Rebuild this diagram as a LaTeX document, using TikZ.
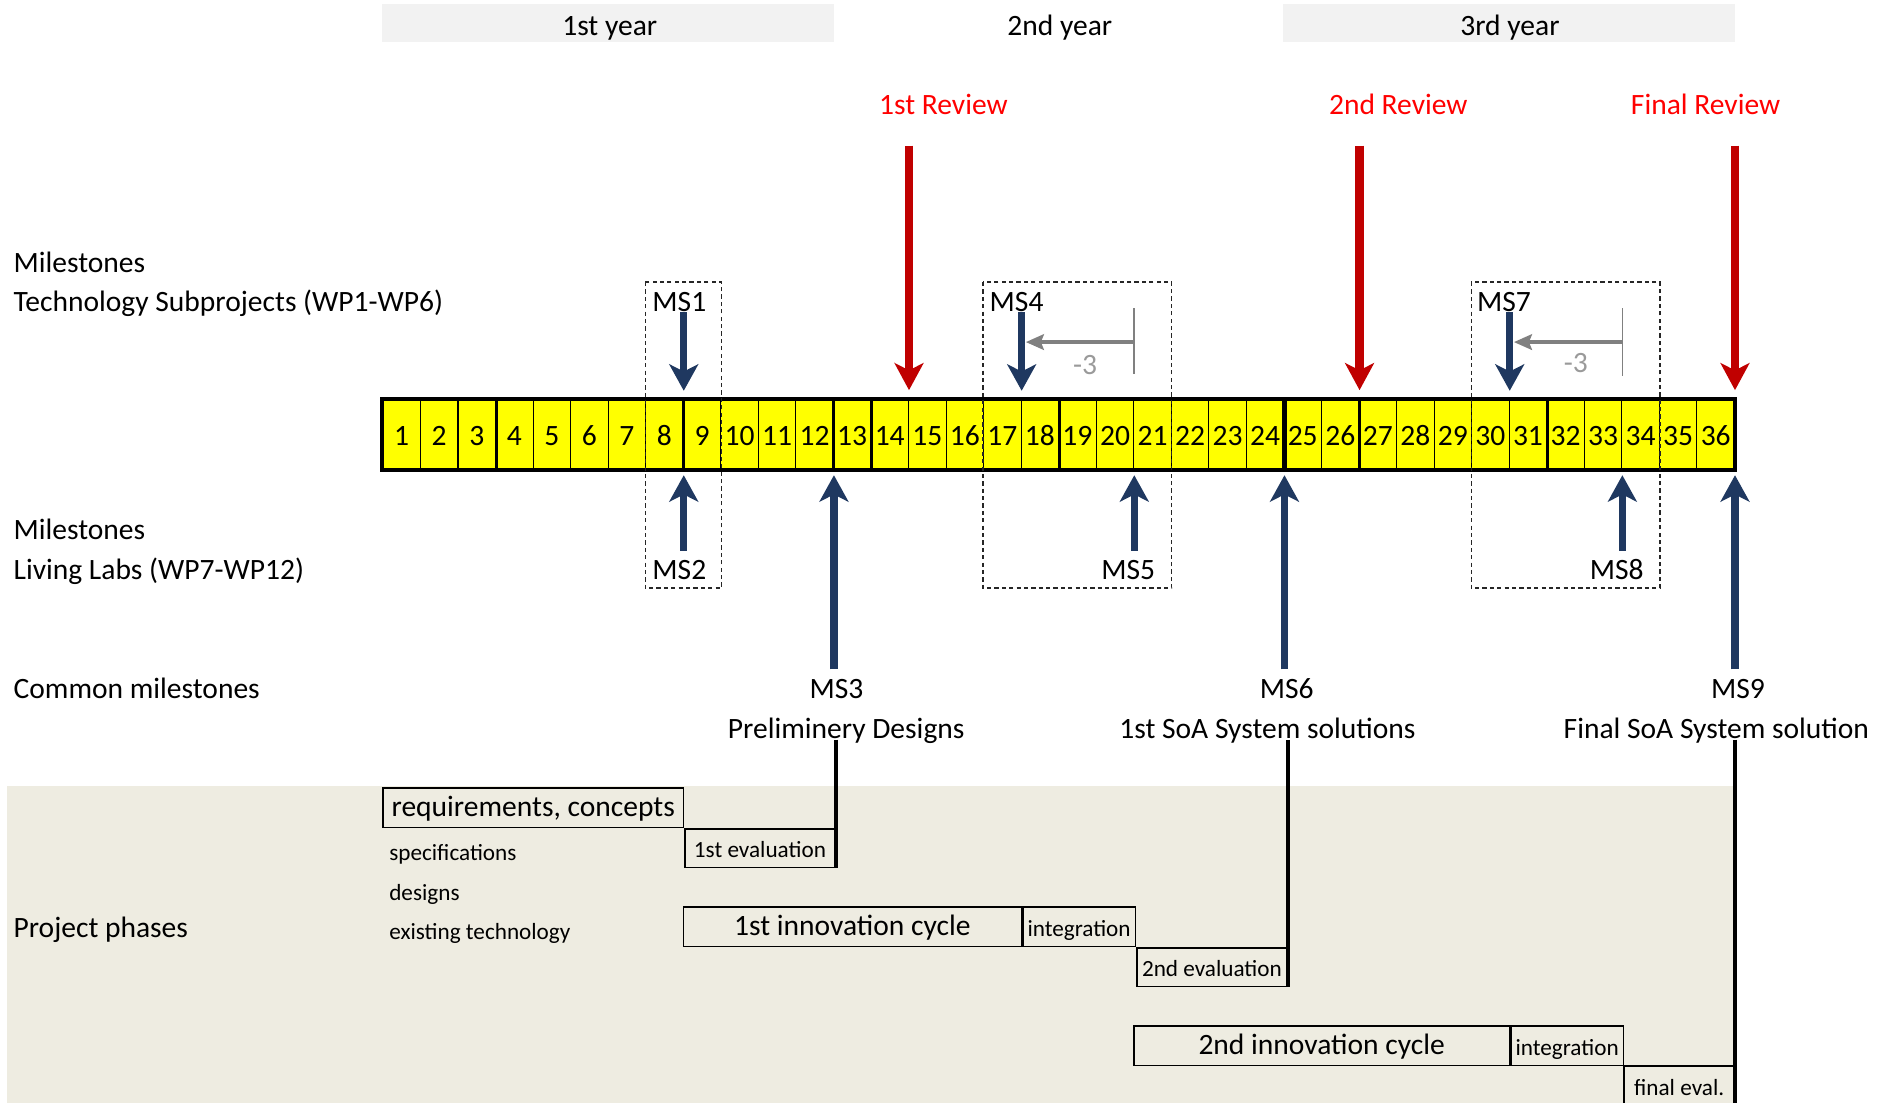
\documentclass[tikz,border=0pt]{standalone}
\usepackage{fontspec}
\setmainfont{Carlito}
\usepackage{tikz}
\usetikzlibrary{arrows.meta,positioning,calc}

\definecolor{msblue}{RGB}{31,56,96}
\definecolor{revred}{RGB}{192,0,0}
\definecolor{revtext}{RGB}{255,0,0}
\definecolor{phasebg}{RGB}{238,236,225}
\definecolor{yearbg}{RGB}{242,242,242}
\definecolor{barfill}{RGB}{255,255,0}
\definecolor{shiftgray}{RGB}{128,128,128}

\def\cellw{0.6256cm}
\def\cellh{1.16cm}

\begin{document}
\begin{tikzpicture}[x=0.02cm, y=-0.02cm,
    lbl/.style={font=\fontsize{14}{16}\selectfont, inner sep=0pt, text height=0.86em, text depth=0.04em},
    lblsmall/.style={font=\fontsize{11}{13}\selectfont, inner sep=0pt, text height=0.9em, text depth=0em},
    cell/.style={lbl, draw, line width=0.5pt, fill=barfill, minimum width=\cellw, minimum height=\cellh, text height=1.06em, text depth=0em},
    msbox/.style={draw=black!85, line width=0.6pt, dash pattern=on 2pt off 1.5pt},
    msdown/.style={msblue, line width=3.4pt, -{Stealth[length=0.44cm,width=0.48cm,inset=0.12cm]}, shorten >=0.14cm},
    msup/.style={msblue, line width=3.4pt, -{Stealth[length=0.44cm,width=0.48cm,inset=0.12cm]}, shorten <=0.18cm, shorten >=0.09cm},
    revarrow/.style={revred, line width=4pt, -{Stealth[length=0.45cm,width=0.48cm,inset=0.12cm]}, shorten <=0.5cm, shorten >=0.15cm},
    shiftarrow/.style={shiftgray, line width=1.6pt, -{Stealth[length=0.3cm,width=0.26cm,inset=0.05cm]}, shorten >=0.07cm},
    shifttick/.style={shiftgray, line width=0.8pt},
    msline/.style={black, line width=1.7pt},
    phase/.style={lbl, draw, line width=0.7pt, minimum height=0.66cm, anchor=north west},
    phasesm/.style={lblsmall, draw, line width=0.7pt, minimum height=0.64cm, anchor=north west}]

    \useasboundingbox (0,0) rectangle (1568,919);

    % Phase background
    \fill[phasebg] (6,655) rectangle (1445,919);

    % Timeline (months)
    \foreach \i in {1,...,36} {
        \node[cell] (c\i) at ({319+(\i-0.5)*31.28},362) {\i};
    }
    \foreach \i in {3,8,12,13,18,26,31} {
        \draw[line width=1.4pt] (c\i.north east) -- (c\i.south east);
    }
    \draw[line width=2.2pt] (c24.north east) -- (c24.south east);
    \draw[line width=2pt] (c1.north west) rectangle (c36.south east);

    % Years
    \coordinate (yeartop) at (0,3);
    \coordinate (yearbot) at (0,35);
    \fill[yearbg] (c1.west |- yeartop) rectangle (c12.east |- yearbot);
    \fill[yearbg] (c25.west |- yeartop) rectangle (c36.east |- yearbot);
    \node[lbl] (yr1) at (508,22) {1st year};
    \node[lbl] (yr2) at (883,22) {2nd year};
    \node[lbl] (yr3) at (1258,22) {3rd year};

    % Row labels
    \node[lbl, anchor=west] (tsm) at (11,220) {Milestones};
    \node[lbl, anchor=west] (tsp) at (11,252) {Technology Subprojects (WP1-WP6)};
    \node[lbl, anchor=west] (llm) at (11,442) {Milestones};
    \node[lbl, anchor=west] (llp) at (11,476) {Living Labs (WP7-WP12)};
    \node[lbl, anchor=west] (cms) at (11,575) {Common milestones};
    \node[lbl, anchor=west] (pph) at (11,774) {Project phases};

    % Reviews
    \node[lbl, revtext] (rev1) at (786,88) {1st Review};
    \node[lbl, revtext] (rev2) at (1165,88) {2nd Review};
    \node[lbl, revtext] (rev3) at (1421,88) {Final Review};
    \draw[revarrow] (rev1.south -| c14.north east) -- (c14.north east);
    \draw[revarrow] (rev2.south -| c26.north east) -- (c26.north east);
    \draw[revarrow] (rev3.south -| c36.north east) -- (c36.north east);

    % Dashed milestone boxes
    \coordinate (boxtop) at (0,235);
    \coordinate (boxbot) at (0,490);
    \draw[msbox] (c8.west |- boxtop) rectangle (c9.east |- boxbot);
    \draw[msbox] (c17.west |- boxtop) rectangle (c21.east |- boxbot);
    \draw[msbox] (c30.west |- boxtop) rectangle (c34.east |- boxbot);

    % Technology milestones
    \node[lbl] (ms1) at (566,252) {MS1};
    \node[lbl] (ms4) at (847,252) {MS4};
    \node[lbl] (ms7) at (1253,252) {MS7};
    \draw[msdown] (ms1.south -| c8.north east) -- (c8.north east);
    \draw[msdown] (ms4.south -| c17.north east) -- (c17.north east);
    \draw[msdown] (ms7.south -| c30.north east) -- (c30.north east);

    % Shift by -3 months
    \coordinate (sy) at (0,285);
    \coordinate (t4) at (c20.north east |- sy);
    \coordinate (t7) at (c33.north east |- sy);
    \draw[shifttick] ([yshift=0.56cm]t4) -- ([yshift=-0.54cm]t4);
    \draw[shifttick] ([yshift=0.56cm]t7) -- ([yshift=-0.56cm]t7);
    \draw[shiftarrow] (t4) -- (t4 -| c17.north east);
    \draw[shiftarrow] (t7) -- (t7 -| c30.north east);
    \node[lbl, shiftgray!80] (sh4) at (904,305) {-3};
    \node[lbl, shiftgray!80] (sh7) at (1313,303) {-3};

    % Living lab milestones
    \node[lbl] (ms2) at (566,476) {MS2};
    \node[lbl] (ms5) at (940,476) {MS5};
    \node[lbl] (ms8) at (1347,476) {MS8};
    \draw[msup] (ms2.north -| c8.south east) -- (c8.south east);
    \draw[msup] (ms5.north -| c20.south east) -- (c20.south east);
    \draw[msup] (ms8.north -| c33.south east) -- (c33.south east);

    % Common milestones
    \node[lbl] (ms3) at (697,575) {MS3};
    \node[lbl] (ms6) at (1072,575) {MS6};
    \node[lbl] (ms9) at (1448,575) {MS9};
    \node[lbl] (pd) at (705,608) {Preliminery Designs};
    \node[lbl] (sol1) at (1056,608) {1st SoA System solutions};
    \node[lbl] (sol2) at (1430,608) {Final SoA System solution};
    \draw[msup] (ms3.north -| c12.south east) -- (c12.south east);
    \draw[msup] (ms6.north -| c24.south east) -- (c24.south east);
    \draw[msup] (ms9.north -| c36.south east) -- (c36.south east);

    % Project phases
    \coordinate (row1) at (0,656);
    \coordinate (row3) at (0,755);
    \coordinate (row5) at (0,854);
    \coordinate (pagebot) at (0,919);
    \node[phase, minimum width=8*\cellw] (req) at (c1.west |- row1) {requirements, concepts};
    \node[phasesm, minimum width=4*\cellw] (ev1) at (req.south east) {1st evaluation};
    \node[lblsmall, anchor=west] (spec) at (324,709) {specifications};
    \node[lblsmall, anchor=west] (des) at (324,742) {designs};
    \node[lblsmall, anchor=west] (ext) at (324,775) {existing technology};
    \node[phase, minimum width=9*\cellw] (cyc1) at (c9.west |- row3) {1st innovation cycle};
    \node[phasesm, minimum width=3*\cellw, minimum height=0.66cm] (int1) at (cyc1.north east) {integration};
    \node[phasesm, minimum width=4*\cellw] (ev2) at (int1.south east) {2nd evaluation};
    \node[phase, minimum width=10*\cellw] (cyc2) at (c21.west |- row5) {2nd innovation cycle};
    \node[phasesm, minimum width=3*\cellw, minimum height=0.66cm] (int2) at (cyc2.north east) {integration};
    \node[lblsmall] (fev) at (1399,905) {final eval.};
    \draw[line width=0.7pt] (int2.south east) -- (int2.south east -| c36.east);
    \draw[line width=0.7pt] (int2.south east) -- (int2.south east |- pagebot);

    % Milestone lines into the phases
    \draw[msline] (pd.south -| ev1.east) -- (ev1.south east);
    \draw[msline] (sol1.south -| ev2.east) -- (ev2.south east);
    \draw[msline] (sol2.south -| c36.east) -- (c36.east |- pagebot);
\end{tikzpicture}
\end{document}
